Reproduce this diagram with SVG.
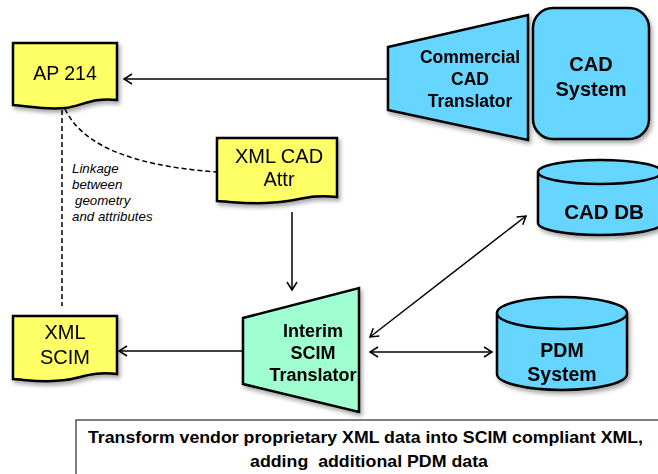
<svg xmlns="http://www.w3.org/2000/svg" width="658" height="474" viewBox="0 0 658 474">
<defs>
<style>
.doc{fill:#ffff66;stroke:#000;stroke-width:2.5}
.blue{fill:#66d5ff;stroke:#000;stroke-width:2.5}
.mint{fill:#a0ffd0;stroke:#000;stroke-width:2.5}
.t{font-family:"Liberation Sans",Arial,sans-serif;fill:#000;text-anchor:middle}
.b{font-weight:bold}
.conn{stroke:#000;stroke-width:1.5;fill:none}
.dash{stroke:#000;stroke-width:1.5;fill:none;stroke-dasharray:5,3}
</style>
<filter id="sh" x="-10%" y="-10%" width="130%" height="130%">
<feDropShadow dx="2" dy="3" stdDeviation="2" flood-color="#000" flood-opacity="0.35"/>
</filter>
<marker id="ah" markerWidth="12" markerHeight="12" refX="10" refY="6" orient="auto-start-reverse" markerUnits="userSpaceOnUse">
<path d="M2,1 L10,6 L2,11" fill="none" stroke="#000" stroke-width="1.5"/>
</marker>
</defs>

<g id="connectors">
<line class="conn" x1="388" y1="79" x2="124" y2="79" marker-end="url(#ah)"/>
<line class="conn" x1="292" y1="212" x2="292" y2="290" marker-end="url(#ah)"/>
<line class="conn" x1="244" y1="351" x2="119" y2="351" marker-end="url(#ah)"/>
<line class="conn" x1="370" y1="337" x2="526" y2="216" marker-start="url(#ah)" marker-end="url(#ah)"/>
<line class="conn" x1="370" y1="352" x2="492" y2="352" marker-start="url(#ah)" marker-end="url(#ah)"/>
<path class="dash" d="M65,109 C80,140 120,165 217,172"/>
<line class="dash" x1="62" y1="110" x2="62" y2="306"/>
</g>

<g id="ap214" filter="url(#sh)">
<path class="doc" d="M13,43 H117 V100 C92,97 82,106 65,108 C45,110 28,106 13,105 Z"/>
<text class="t" x="65" y="80" font-size="19.5">AP 214</text>
</g>

<g id="commercial-cad-translator" filter="url(#sh)">
<path class="blue" d="M388,47 L528,15 L528,140 L388,110 Z"/>
<text class="t b" x="470" y="63" font-size="17.5">Commercial</text>
<text class="t b" x="470" y="85" font-size="17.5">CAD</text>
<text class="t b" x="470" y="107" font-size="17.5">Translator</text>
</g>

<g id="cad-system" filter="url(#sh)">
<rect class="blue" x="533" y="8" width="116" height="131" rx="20"/>
<text class="t b" x="591" y="71" font-size="20">CAD</text>
<text class="t b" x="591" y="96" font-size="20">System</text>
</g>

<g id="xml-cad-attr" filter="url(#sh)">
<path class="doc" d="M217,138 H337 V197 C312,194 300,200 280,202 C255,205 235,202 217,201 Z"/>
<text class="t" x="279" y="163" font-size="20">XML CAD</text>
<text class="t" x="279" y="186" font-size="20">Attr</text>
</g>

<g id="linkage-label">
<text font-family="Liberation Sans,Arial,sans-serif" font-style="italic" font-size="13.3" fill="#000">
<tspan x="72" y="173">Linkage</tspan>
<tspan x="72" y="189">between</tspan>
<tspan x="75" y="205">geometry</tspan>
<tspan x="72" y="221">and attributes</tspan>
</text>
</g>

<g id="xml-scim" filter="url(#sh)">
<path class="doc" d="M13,316 H117 V374 C92,371 82,378 65,380 C45,383 28,380 13,379 Z"/>
<text class="t" x="65" y="339" font-size="20">XML</text>
<text class="t" x="65" y="364" font-size="20">SCIM</text>
</g>

<g id="interim-scim-translator" filter="url(#sh)">
<path class="mint" d="M243,318 L359,288 L359,412 L243,384 Z"/>
<text class="t b" x="313" y="337" font-size="18">Interim</text>
<text class="t b" x="313" y="359" font-size="18">SCIM</text>
<text class="t b" x="313" y="381" font-size="18">Translator</text>
</g>

<g id="cad-db" filter="url(#sh)">
<path class="blue" d="M538,172 V223 A62,12 0 0 0 662,223 V172"/>
<ellipse class="blue" cx="600" cy="172" rx="62" ry="12"/>
<text class="t b" x="604" y="219" font-size="20.5">CAD DB</text>
</g>

<g id="pdm-system" filter="url(#sh)">
<path class="blue" d="M497,313 V374 A65,16 0 0 0 627,374 V313"/>
<ellipse class="blue" cx="562" cy="313" rx="65" ry="16"/>
<text class="t b" x="562" y="357" font-size="19.5">PDM</text>
<text class="t b" x="562" y="381" font-size="19.5">System</text>
</g>

<g id="caption">
<rect x="76" y="420" width="590" height="60" fill="#fff" stroke="#000" stroke-width="1"/>
<text class="t b" x="365.5" y="443" font-size="17" textLength="555" lengthAdjust="spacingAndGlyphs">Transform vendor proprietary XML data into SCIM compliant XML,</text>
<text class="t b" x="369" y="467" font-size="17" textLength="238" lengthAdjust="spacingAndGlyphs">adding&#160; additional PDM data</text>
</g>
</svg>
